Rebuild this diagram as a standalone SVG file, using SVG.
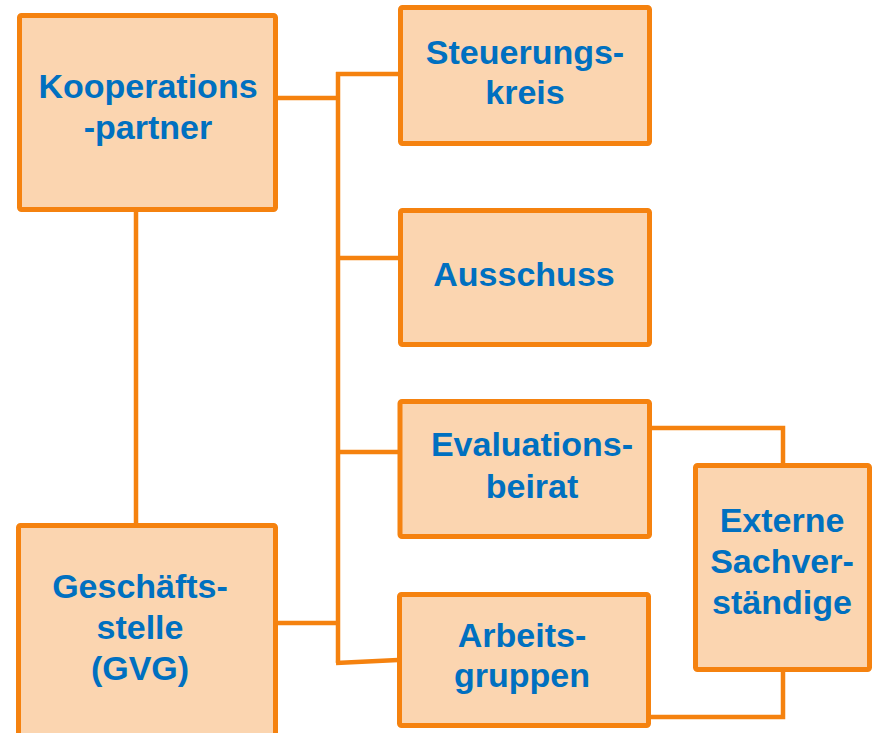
<svg xmlns="http://www.w3.org/2000/svg" width="873" height="733" viewBox="0 0 873 733">
<style>
.box{fill:#FBD5B0;stroke:#F5820F;stroke-width:5}
.con{fill:none;stroke:#F5820F;stroke-width:4.5;stroke-linejoin:miter}
text{font-family:"Liberation Sans",Arial,sans-serif;font-weight:bold;font-size:34px;fill:#0070C0;text-anchor:middle}
</style>
<rect width="873" height="733" fill="#FFFFFF"/>
<g id="connectors">
<path class="con" d="M136,212 V523"/>
<path class="con" d="M278,98 H338"/>
<path class="con" d="M338,72 V663"/>
<path class="con" d="M336,74 H398"/>
<path class="con" d="M338,258 H398"/>
<path class="con" d="M338,452 H398"/>
<path class="con" d="M278,623 H338"/>
<path class="con" d="M336,663 L398,660"/>
<path class="con" d="M652,428 H783 V463"/>
<path class="con" d="M783,672 V717 H651"/>
</g>
<g id="kooperationspartner">
<rect class="box" x="19.5" y="15.5" width="256" height="194" rx="2"/>
<text x="148" y="98">Kooperations</text>
<text x="148" y="139">-partner</text>
</g>
<g id="steuerungskreis">
<rect class="box" x="400.5" y="7.5" width="249" height="136" rx="2"/>
<text x="525" y="64">Steuerungs-</text>
<text x="525" y="104">kreis</text>
</g>
<g id="ausschuss">
<rect class="box" x="400.5" y="210.5" width="249" height="134" rx="2"/>
<text x="524" y="286">Ausschuss</text>
</g>
<g id="evaluationsbeirat">
<rect class="box" x="400" y="401.5" width="249.5" height="135" rx="2"/>
<text x="532" y="456">Evaluations-</text>
<text x="532" y="498">beirat</text>
</g>
<g id="externe">
<rect class="box" x="695.5" y="465.5" width="174" height="204" rx="2"/>
<text x="782" y="532">Externe</text>
<text x="782" y="573">Sachver-</text>
<text x="782" y="614">ständige</text>
</g>
<g id="arbeitsgruppen">
<rect class="box" x="399.5" y="594.5" width="249" height="131" rx="2"/>
<text x="522" y="647">Arbeits-</text>
<text x="522" y="687">gruppen</text>
</g>
<g id="geschaeftsstelle">
<rect class="box" x="18.5" y="525.5" width="257" height="220" rx="2"/>
<text x="140" y="598">Geschäfts-</text>
<text x="140" y="639">stelle</text>
<text x="140" y="680">(GVG)</text>
</g>
</svg>
